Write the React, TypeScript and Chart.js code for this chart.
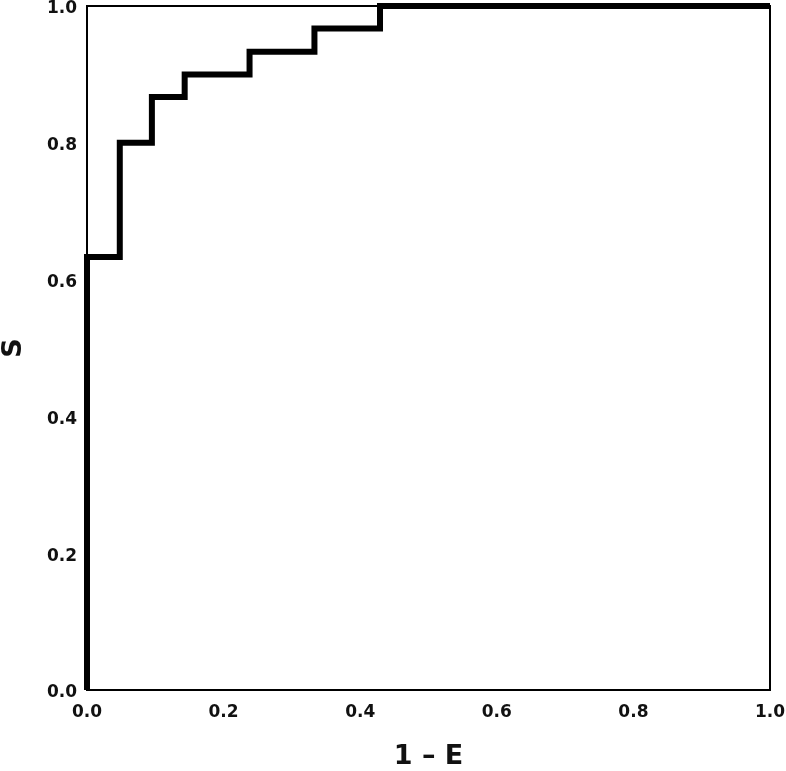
import React, { useEffect, useRef } from "react";
import { Chart, registerables } from "chart.js";

Chart.register(...registerables);

const fpr = [0, 0, 0.048, 0.048, 0.095, 0.095, 0.143, 0.143, 0.238, 0.238, 0.333, 0.333, 0.429, 0.429, 1.0];
const tpr = [0, 0.633, 0.633, 0.8, 0.8, 0.867, 0.867, 0.9, 0.9, 0.933, 0.933, 0.967, 0.967, 1.0, 1.0];
const xTitle = "1 – E";
const yTitle = "S";

const framePlugin = {
  id: "frame",
  afterDatasetsDraw(chart: any) {
    const { ctx, chartArea } = chart;
    ctx.save();
    ctx.strokeStyle = "#000";
    ctx.lineWidth = 2;
    ctx.strokeRect(chartArea.left, chartArea.top, chartArea.right - chartArea.left, chartArea.bottom - chartArea.top);
    ctx.restore();
  },
};

export default function App() {
  const ref = useRef<HTMLCanvasElement | null>(null);
  useEffect(() => {
    if (!ref.current) return;
    const font = { family: "DejaVu Sans", weight: "bold" as const };
    const chart = new Chart(ref.current, {
      type: "line",
      data: {
        datasets: [
          {
            data: fpr.map((x, i) => ({ x, y: tpr[i] })),
            borderColor: "#000",
            borderWidth: 6,
            pointRadius: 0,
            fill: false,
            tension: 0,
            clip: false as any,
            borderJoinStyle: "miter",
          },
        ],
      },
      options: {
        animation: false,
        responsive: true,
        maintainAspectRatio: false,
        layout: { padding: { top: 6, right: 16, left: 0, bottom: 0 } },
        plugins: { legend: { display: false }, tooltip: { enabled: false } },
        scales: {
          x: {
            type: "linear",
            min: 0,
            max: 1,
            grid: { display: false, drawTicks: false },
            border: { display: false },
            ticks: {
              stepSize: 0.2,
              padding: 12,
              color: "#111",
              font: { ...font, size: 17 },
              callback: (v: any) => Number(v).toFixed(1),
            },
            title: {
              display: true,
              text: xTitle,
              color: "#111",
              font: { ...font, size: 27, lineHeight: 1.05 },
              padding: { top: 0, bottom: 0 },
            },
            afterFit: (s: any) => {
              s.height = 81;
              s.paddingLeft = 0;
              s.paddingRight = 0;
            },
          },
          y: {
            type: "linear",
            min: 0,
            max: 1,
            grid: { display: false, drawTicks: false },
            border: { display: false },
            ticks: {
              stepSize: 0.2,
              padding: 10,
              labelOffset: 3,
              color: "#111",
              font: { ...font, size: 17 },
              callback: (v: any) => Number(v).toFixed(1),
            },
            title: {
              display: true,
              text: yTitle,
              color: "#111",
              font: { ...font, size: 27, lineHeight: 1.05 },
              padding: { top: 0, bottom: 0 },
            },
            afterFit: (s: any) => {
              s.width = 87;
              s.paddingTop = 0;
              s.paddingBottom = 0;
            },
          },
        },
      },
      plugins: [framePlugin],
    });
    return () => chart.destroy();
  }, []);
  return (
    <div style={{ position: "fixed", left: 0, top: 0, width: 786, height: 771, background: "#fff" }}>
      <canvas ref={ref} />
    </div>
  );
}
